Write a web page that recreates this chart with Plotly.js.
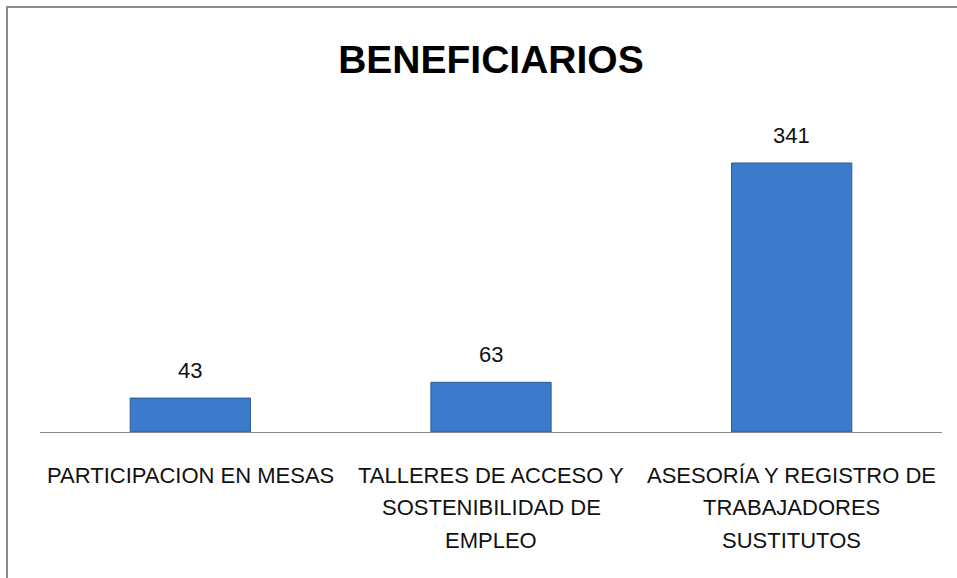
<!DOCTYPE html>
<html>
<head>
<meta charset="utf-8">
<script src="https://cdn.plot.ly/plotly-3.0.1.min.js"></script>
<style>
  html, body { margin: 0; padding: 0; background: #ffffff; overflow: hidden; }
  #frame { position: absolute; left: 6px; top: 6px; width: 2000px; height: 2000px; border: 2px solid #8c8c8c; }
  #myDiv { position: absolute; left: 0; top: 0; width: 957px; height: 578px; }
</style>
</head>
<body>
<div id="frame"></div>
<div id="myDiv"></div>
<script>
var categories = ["PARTICIPACION EN MESAS", "TALLERES DE ACCESO Y SOSTENIBILIDAD DE EMPLEO", "ASESORÍA Y REGISTRO DE TRABAJADORES SUSTITUTOS"];
var values = [43, 63, 341];
var tickLines = [
    ["PARTICIPACION EN MESAS"],
    ["TALLERES DE ACCESO Y", "SOSTENIBILIDAD DE", "EMPLEO"],
    ["ASESORÍA Y REGISTRO DE", "TRABAJADORES", "SUSTITUTOS"]
];

var labelFont = {family: "Liberation Sans, Arial, sans-serif", size: 22, color: "#111111"};

const trace1 = {
    x: categories,
    y: values,
    type: 'bar',
    marker: {
        color: '#3c7bcb',
        line: {color: '#2d5c98', width: 1}
    },
    hoverinfo: 'none'
};

// value labels above the bars
let annotations = [];
for (let i = 0; i < categories.length; i++) {
    annotations.push({
        x: categories[i],
        y: values[i],
        xref: 'x',
        yref: 'y',
        text: String(values[i]),
        showarrow: false,
        yanchor: 'bottom',
        yshift: 13,
        font: labelFont
    });
}

// category labels, one annotation per line so the line spacing matches
for (let i = 0; i < categories.length; i++) {
    for (let j = 0; j < tickLines[i].length; j++) {
        annotations.push({
            x: categories[i],
            y: 0,
            xref: 'x',
            yref: 'y',
            text: tickLines[i][j],
            showarrow: false,
            yanchor: 'middle',
            yshift: -(43 + j*32.5),
            font: labelFont
        });
    }
}

const layout = {
    width: 957,
    height: 578,
    margin: {l: 40, r: 15, t: 116, b: 146},
    paper_bgcolor: 'rgba(0,0,0,0)',
    plot_bgcolor: 'rgba(0,0,0,0)',
    title: {
        text: '<b>BENEFICIARIOS</b>',
        font: {family: "Liberation Sans, Arial, sans-serif", size: 39, color: '#000000'},
        x: 0.513,
        xanchor: 'center',
        y: 0.897,
        yref: 'container',
        yanchor: 'middle'
    },
    bargap: 0.6,
    showlegend: false,
    xaxis: {
        showline: true,
        linecolor: '#868686',
        linewidth: 1,
        showticklabels: false,
        ticks: '',
        showgrid: false,
        zeroline: false,
        fixedrange: true
    },
    yaxis: {
        range: [0, 400.6],
        visible: false,
        showgrid: false,
        zeroline: false,
        fixedrange: true
    },
    annotations: annotations
};

Plotly.newPlot('myDiv', [trace1], layout, {displayModeBar: false, staticPlot: true});
</script>
</body>
</html>
